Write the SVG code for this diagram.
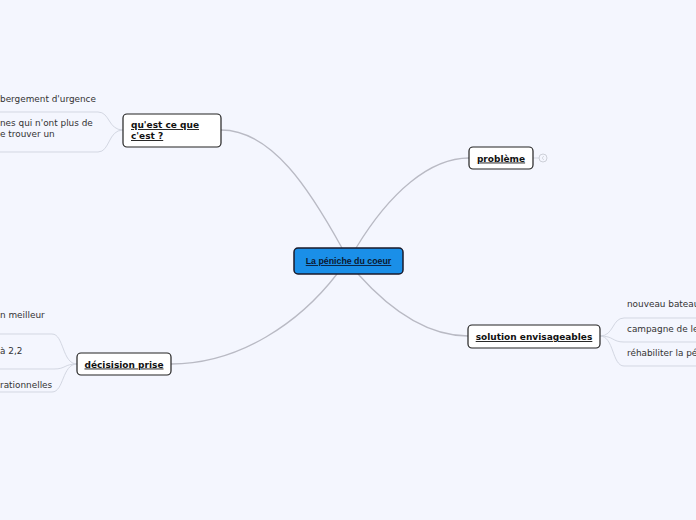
<svg xmlns="http://www.w3.org/2000/svg" width="696" height="520" viewBox="0 0 696 520">
<style>
.bg{fill:#f4f6fe}
.node{fill:#ffffff;stroke:#222;stroke-width:1.2}
.root{fill:#1a8fe8;stroke:#1a1a2a;stroke-width:1.5}
.nt{font-family:"DejaVu Sans",Verdana,sans-serif;font-size:9px;font-weight:bold;fill:#111;text-decoration:underline}
.rt{font-family:"Liberation Sans",Arial,sans-serif;font-size:8.8px;font-weight:bold;fill:#0a1830;text-decoration:underline}
.ct{font-family:"DejaVu Sans",Verdana,sans-serif;font-size:8.9px;fill:#333}
.main{fill:none;stroke:#b9bac4;stroke-width:1.3}
.sub{fill:none;stroke:#d3d7e2;stroke-width:1}
</style>
<rect class="bg" x="0" y="0" width="696" height="520"/>
<g id="connectors">
<path class="main" d="M221,130 C272,130 310,190 342,248"/>
<path class="main" d="M356,248 C390,192 430,158 469,158"/>
<path class="main" d="M358,274 C392,312 430,336 468,336"/>
<path class="main" d="M337,274 C300,322 240,364 171,364"/>
<path class="sub" d="M123,130 C108,130 110,112 98,112 L0,112"/>
<path class="sub" d="M123,130 C108,130 110,152 98,152 L0,152"/>
<path class="sub" d="M77,364 C62,364 64,334 52,334 L0,334"/>
<path class="sub" d="M77,364 C64,364 66,369 54,369 L0,369"/>
<path class="sub" d="M77,364 C62,364 64,392 52,392 L0,392"/>
<path class="sub" d="M600,336 C614,336 612,318 624,318 L696,318"/>
<path class="sub" d="M600,336 C614,336 612,342 624,342 L696,342"/>
<path class="sub" d="M600,336 C614,336 612,366 624,366 L696,366"/>
<path class="sub" d="M533,158 L539,158"/>
</g>
<g id="root">
<rect class="root" x="294" y="248" width="109" height="26" rx="4"/>
<text class="rt" x="348.5" y="264" text-anchor="middle">La péniche du coeur</text>
</g>
<g id="quest">
<rect class="node" x="123" y="114" width="98" height="33" rx="4"/>
<text class="nt" x="131" y="128">qu'est ce que </text>
<text class="nt" x="131" y="139">c'est ?</text>
</g>
<g id="probleme">
<rect class="node" x="469" y="147" width="64" height="22" rx="4"/>
<text class="nt" x="501" y="161.5" text-anchor="middle">problème</text>
<circle cx="543" cy="158" r="4" fill="none" stroke="#cdd0d8" stroke-width="1"/>
<path d="M543.8,156 L542.2,158 L543.8,160" fill="none" stroke="#cdd0d8" stroke-width="0.8"/>
</g>
<g id="solution">
<rect class="node" x="468" y="325" width="132" height="23" rx="4"/>
<text class="nt" x="534" y="340" text-anchor="middle">solution envisageables</text>
</g>
<g id="decision">
<rect class="node" x="77" y="353" width="94" height="22" rx="4"/>
<text class="nt" x="124" y="367.5" text-anchor="middle">décisision prise</text>
</g>
<g id="c-heb"><text class="ct" x="0" y="102">bergement d'urgence</text></g>
<g id="c-pers">
<text class="ct" x="0" y="126">nes qui n'ont plus de</text>
<text class="ct" x="0" y="136.5">e trouver un</text>
</g>
<g id="c-meil"><text class="ct" x="0" y="318">n meilleur</text></g>
<g id="c-22"><text class="ct" x="0" y="354">à 2,2</text></g>
<g id="c-rat"><text class="ct" x="0" y="388">rationnelles</text></g>
<g id="c-bat"><text class="ct" x="627" y="307">nouveau bateau</text></g>
<g id="c-camp"><text class="ct" x="627" y="332">campagne de le</text></g>
<g id="c-reh"><text class="ct" x="627" y="356">réhabiliter la pé</text></g>
</svg>
